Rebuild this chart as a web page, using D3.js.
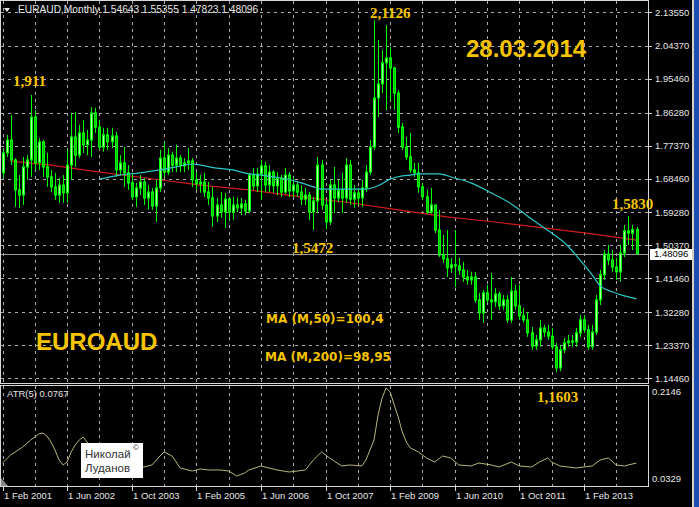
<!DOCTYPE html>
<html>
<head>
<meta charset="utf-8">
<script src="https://cdn.jsdelivr.net/npm/d3@7/dist/d3.min.js"></script>
<style>
  body { margin: 0; background: #000; }
  svg { display: block; }
</style>
</head>
<body>
<svg width="699" height="507"></svg>
<script>
// EURAUD monthly bars, Feb 2001 .. Mar 2014 (index 0 = Feb 2001)
var open = [1.700,1.754,1.789,1.735,1.654,1.640,1.716,1.735,1.851,1.727,
  1.784,1.716,1.689,1.662,1.640,1.667,1.646,1.721,1.797,1.748,
  1.808,1.776,1.789,1.862,1.824,1.770,1.803,1.784,1.800,1.708,
  1.727,1.700,1.673,1.635,1.659,1.675,1.632,1.648,1.610,1.659,
  1.740,1.702,1.748,1.721,1.740,1.719,1.727,1.732,1.681,1.670,
  1.675,1.648,1.632,1.583,1.613,1.594,1.629,1.594,1.613,1.605,
  1.616,1.597,1.694,1.665,1.697,1.719,1.667,1.702,1.665,1.686,
  1.648,1.694,1.651,1.667,1.648,1.629,1.640,1.594,1.624,1.721,
  1.613,1.567,1.667,1.632,1.654,1.632,1.721,1.629,1.646,1.632,
  1.659,1.702,1.770,1.903,1.941,1.998,2.011,1.984,1.916,1.824,
  1.770,1.743,1.708,1.700,1.662,1.635,1.594,1.613,1.545,1.478,
  1.467,1.443,1.451,1.448,1.437,1.418,1.410,1.418,1.356,1.321,
  1.375,1.356,1.351,1.372,1.340,1.356,1.302,1.380,1.340,1.313,
  1.302,1.267,1.231,1.248,1.280,1.269,1.258,1.229,1.172,1.221,
  1.240,1.245,1.242,1.267,1.302,1.275,1.229,1.269,1.356,1.424,
  1.480,1.464,1.445,1.432,1.483,1.543,1.537,1.54643];
var high = [1.762,1.803,1.857,1.740,1.694,1.743,1.748,1.911,1.870,1.794,
  1.789,1.754,1.708,1.700,1.686,1.694,1.762,1.862,1.865,1.830,
  1.843,1.816,1.878,1.876,1.843,1.822,1.822,1.822,1.811,1.748,
  1.770,1.721,1.700,1.673,1.694,1.686,1.667,1.659,1.681,1.762,
  1.784,1.767,1.757,1.776,1.748,1.740,1.767,1.740,1.702,1.694,
  1.700,1.675,1.662,1.632,1.648,1.646,1.632,1.635,1.632,1.632,
  1.627,1.700,1.713,1.713,1.735,1.730,1.721,1.708,1.702,1.694,
  1.713,1.702,1.686,1.675,1.667,1.659,1.648,1.635,1.743,1.735,
  1.627,1.681,1.716,1.681,1.700,1.740,1.735,1.667,1.659,1.681,
  1.721,1.789,2.1126,2.060,2.033,2.100,2.041,1.987,1.924,1.835,
  1.797,1.808,1.727,1.727,1.673,1.654,1.659,1.613,1.600,1.532,
  1.545,1.470,1.545,1.470,1.459,1.437,1.432,1.432,1.375,1.383,
  1.397,1.429,1.388,1.378,1.369,1.369,1.418,1.397,1.397,1.334,
  1.323,1.283,1.261,1.302,1.288,1.288,1.280,1.240,1.234,1.253,
  1.261,1.261,1.280,1.315,1.315,1.288,1.288,1.369,1.437,1.491,
  1.505,1.491,1.470,1.505,1.559,1.583,1.559,1.55355];
var low = [1.686,1.743,1.721,1.608,1.605,1.613,1.681,1.689,1.708,1.708,
  1.689,1.662,1.648,1.627,1.619,1.619,1.619,1.681,1.716,1.740,
  1.754,1.748,1.743,1.808,1.762,1.757,1.762,1.767,1.689,1.694,
  1.662,1.654,1.627,1.608,1.640,1.613,1.600,1.600,1.567,1.648,
  1.689,1.694,1.702,1.702,1.702,1.702,1.708,1.662,1.654,1.646,
  1.635,1.613,1.554,1.567,1.578,1.551,1.573,1.573,1.594,1.586,
  1.586,1.591,1.654,1.648,1.627,1.648,1.648,1.646,1.640,1.635,
  1.643,1.635,1.635,1.635,1.613,1.613,1.573,1.545,1.591,1.600,
  1.5472,1.559,1.591,1.621,1.591,1.619,1.613,1.605,1.613,1.608,
  1.648,1.694,1.762,1.851,1.916,1.870,1.897,1.870,1.808,1.762,
  1.735,1.700,1.689,1.646,1.627,1.589,1.589,1.537,1.472,1.456,
  1.418,1.429,1.391,1.424,1.405,1.397,1.397,1.348,1.302,1.294,
  1.348,1.302,1.337,1.329,1.329,1.294,1.294,1.329,1.302,1.294,
  1.256,1.221,1.221,1.229,1.256,1.248,1.221,1.1603,1.163,1.212,
  1.229,1.229,1.229,1.256,1.267,1.221,1.221,1.261,1.342,1.410,
  1.451,1.432,1.410,1.405,1.472,1.505,1.491,1.47823];
var close = [1.754,1.789,1.735,1.654,1.640,1.716,1.735,1.851,1.727,1.784,
  1.716,1.689,1.662,1.640,1.667,1.646,1.721,1.797,1.748,1.808,
  1.776,1.789,1.862,1.824,1.770,1.803,1.784,1.800,1.708,1.727,
  1.700,1.673,1.635,1.659,1.675,1.632,1.648,1.610,1.659,1.740,
  1.702,1.748,1.721,1.740,1.719,1.727,1.732,1.681,1.670,1.675,
  1.648,1.632,1.583,1.613,1.594,1.629,1.594,1.613,1.605,1.616,
  1.597,1.694,1.665,1.697,1.719,1.667,1.702,1.665,1.686,1.648,
  1.694,1.651,1.667,1.648,1.629,1.640,1.594,1.624,1.721,1.613,
  1.567,1.667,1.632,1.654,1.632,1.721,1.629,1.646,1.632,1.659,
  1.702,1.770,1.903,1.941,1.998,2.011,1.984,1.916,1.824,1.770,
  1.743,1.708,1.700,1.662,1.635,1.594,1.613,1.545,1.478,1.467,
  1.443,1.451,1.448,1.437,1.418,1.410,1.418,1.356,1.321,1.375,
  1.356,1.351,1.372,1.340,1.356,1.302,1.380,1.340,1.313,1.302,
  1.267,1.231,1.248,1.280,1.269,1.258,1.229,1.172,1.221,1.240,
  1.245,1.242,1.267,1.302,1.275,1.229,1.269,1.356,1.424,1.480,
  1.464,1.445,1.432,1.483,1.543,1.537,1.5464,1.48096];

// moving averages (bar index, value)
var ma200Idx = [2,12,24,37,49,61,74,86,98,110,122,134,146,157];
var ma200 = [1.732,1.721,1.702,1.684,1.667,1.654,1.635,1.619,1.600,1.581,1.567,1.551,1.535,1.518];
var ma50Idx = [24,29,34,39,43,47,49,53,57,61,64,69,74,77,79,84,90,93,96,99,101,103,108,112,116,121,126,131,136,140,143,146,148,151,154,157];
var ma50 = [1.683,1.694,1.700,1.708,1.716,1.724,1.721,1.713,1.708,1.697,1.694,1.686,1.673,1.662,1.656,1.656,1.656,1.665,1.683,1.692,1.694,1.697,1.697,1.686,1.673,1.646,1.616,1.575,1.537,1.502,1.464,1.424,1.394,1.378,1.367,1.359];

// ATR(5) sub window
var atrIdx = [0,2,5,7,9,10,11,12,13,14,15,16,17,18,19,20,22,24,27,29,32,34,37,39,40,42,44,47,49,51,54,56,58,60,61,64,68,71,75,77,79,81,84,86,89,90,92,93,94,95,96,97,98,99,100,101,103,105,107,109,111,113,116,118,121,123,126,128,131,133,135,136,138,142,146,148,150,152,154,157];
var atr = [0.0727,0.0878,0.1029,0.1162,0.1276,0.1294,0.1238,0.1124,0.0973,0.0783,0.0689,0.0745,0.0935,0.1067,0.1162,0.1219,0.1010,0.0821,0.0708,0.0632,0.0594,0.0632,0.0689,0.0859,0.0935,0.0859,0.0632,0.0575,0.0613,0.0594,0.0594,0.0575,0.0480,0.0537,0.0594,0.0670,0.0594,0.0556,0.0594,0.0783,0.0935,0.0821,0.0670,0.0689,0.0670,0.0783,0.1162,0.1635,0.1957,0.2146,0.2071,0.1825,0.1597,0.1313,0.1124,0.1010,0.0935,0.0821,0.0745,0.0859,0.0821,0.0689,0.0670,0.0727,0.0689,0.0651,0.0745,0.0670,0.0651,0.0745,0.0821,0.0745,0.0670,0.0632,0.0670,0.0783,0.0821,0.0689,0.0670,0.0727];

var priceTicks = [2.1355,2.0437,1.9546,1.8628,1.7737,1.6846,1.5928,1.5037,1.4146,1.3228,1.2337,1.1446];
var dateTicks = ["1 Feb 2001","1 Jun 2002","1 Oct 2003","1 Feb 2005","1 Jun 2006","1 Oct 2007","1 Feb 2009","1 Jun 2010","1 Oct 2011","1 Feb 2013"];
var lastPrice = 1.48096;

var svg = d3.select("svg");

// panel geometry
var left = 1, right = 648;
var mainTop = 1, mainBottom = 383, atrTop = 386, atrBottom = 486;

var x = d3.scaleLinear().domain([0, 157]).range([2.5, 636.5]);
var y = d3.scaleLinear().domain([1.1446, 2.1355]).range([378, 12]);
var ya = d3.scaleLinear().domain([0.0329, 0.2146]).range([484, 388]);

var grid = "#a9a9a9";
var gold = "#f6c400";
var axisFont = "Liberation Sans, Arial, sans-serif";

// grid
svg.append("g").selectAll("line")
  .data(priceTicks).enter().append("line")
    .attr("x1", left).attr("x2", right)
    .attr("y1", function(d) { return Math.round(y(d)) + 0.5; })
    .attr("y2", function(d) { return Math.round(y(d)) + 0.5; })
    .attr("stroke", grid).attr("stroke-dasharray", "3,4");

var vIdx = d3.range(0, 158, 8);
[[mainTop, mainBottom], [atrTop, atrBottom]].forEach(function(p) {
  svg.append("g").selectAll("line")
    .data(vIdx).enter().append("line")
      .attr("x1", function(d) { return Math.round(x(d)) + 0.5; })
      .attr("x2", function(d) { return Math.round(x(d)) + 0.5; })
      .attr("y1", p[0]).attr("y2", p[1])
      .attr("stroke", grid).attr("stroke-dasharray", "3,4");
});

// current price line
svg.append("line")
  .attr("x1", left).attr("x2", right)
  .attr("y1", Math.round(y(lastPrice)) + 0.5).attr("y2", Math.round(y(lastPrice)) + 0.5)
  .attr("stroke", "#9a9a9a");

// MA lines
var ma200Line = d3.line().x(function(d) { return x(d[0]); }).y(function(d) { return y(d[1]); });
svg.append("path")
  .datum(ma200Idx.map(function(d, i) { return [d, ma200[i]]; }))
  .attr("d", ma200Line).attr("fill", "none").attr("stroke", "#d21a1a").attr("stroke-width", 1.2);

// candles
var bars = svg.append("g");
open.forEach(function(o, i) {
  var c = close[i];
  var cx = Math.round(x(i));
  bars.append("line")
    .attr("x1", cx + 0.5).attr("x2", cx + 0.5)
    .attr("y1", y(high[i])).attr("y2", y(low[i]))
    .attr("stroke", "#00ff00");
  var top = y(Math.max(o, c)), bot = y(Math.min(o, c));
  bars.append("rect")
    .attr("x", cx - 0.5).attr("width", 2)
    .attr("y", top).attr("height", Math.max(1, bot - top))
    .attr("fill", c >= o ? "#a8ffa0" : "#10c010")
    .attr("stroke", "#00ff00").attr("stroke-width", 1);
});

svg.append("path")
  .datum(ma50Idx.map(function(d, i) { return [d, ma50[i]]; }))
  .attr("d", d3.line().curve(d3.curveMonotoneX).x(function(d) { return x(d[0]); }).y(function(d) { return y(d[1]); }))
  .attr("fill", "none").attr("stroke", "#2bc6c6").attr("stroke-width", 1.2);

// ATR line
svg.append("path")
  .datum(atrIdx.map(function(d, i) { return [d, atr[i]]; }))
  .attr("d", d3.line().x(function(d) { return x(d[0]); }).y(function(d) { return ya(d[1]); }))
  .attr("fill", "none").attr("stroke", "#b9b57a").attr("stroke-width", 1);

// panel borders
svg.append("rect").attr("x", left - 0.5).attr("y", mainTop - 0.5)
  .attr("width", right - left + 1).attr("height", mainBottom - mainTop + 1)
  .attr("fill", "none").attr("stroke", "#d8d8d8");
svg.append("rect").attr("x", left - 0.5).attr("y", atrTop - 0.5)
  .attr("width", right - left + 1).attr("height", atrBottom - atrTop + 1)
  .attr("fill", "none").attr("stroke", "#d8d8d8");

// price axis
var pAxis = svg.append("g");
pAxis.selectAll("line").data(priceTicks).enter().append("line")
  .attr("x1", right).attr("x2", right + 4)
  .attr("y1", function(d) { return Math.round(y(d)) + 0.5; })
  .attr("y2", function(d) { return Math.round(y(d)) + 0.5; })
  .attr("stroke", "#d8d8d8");
pAxis.selectAll("text").data(priceTicks).enter().append("text")
  .attr("x", 655).attr("y", function(d) { return y(d) + 3.5; })
  .attr("fill", "#e6e6e6").attr("font-family", axisFont).attr("font-size", 9.5)
  .text(function(d) { return d3.format(".5f")(d); });

svg.append("rect").attr("x", 650).attr("y", Math.round(y(lastPrice)) - 5)
  .attr("width", 42).attr("height", 11).attr("fill", "#ffffff");
svg.append("text").attr("x", 654).attr("y", y(lastPrice) + 3.5)
  .attr("fill", "#000").attr("font-family", axisFont).attr("font-size", 9.5)
  .text(d3.format(".5f")(lastPrice));

// ATR axis
svg.append("text").attr("x", 652).attr("y", 395).attr("fill", "#e6e6e6")
  .attr("font-family", axisFont).attr("font-size", 9.5).text("0.2146");
svg.append("text").attr("x", 652).attr("y", 482).attr("fill", "#e6e6e6")
  .attr("font-family", axisFont).attr("font-size", 9.5).text("0.0329");

// time axis
var tAxis = svg.append("g");
dateTicks.forEach(function(t, i) {
  var tx = Math.round(x(i * 16)) + 0.5;
  tAxis.append("line").attr("x1", tx).attr("x2", tx).attr("y1", atrBottom).attr("y2", atrBottom + 5)
    .attr("stroke", "#d8d8d8");
  tAxis.append("text").attr("x", tx + 0.5).attr("y", 499).attr("fill", "#e6e6e6")
    .attr("font-family", axisFont).attr("font-size", 9.5).text(t);
});

// header
svg.append("path").attr("d", "M4,8 L10,8 L7,12 Z").attr("fill", "#e6e6e6");
svg.append("text").attr("x", 18).attr("y", 13).attr("fill", "#e6e6e6")
  .attr("font-family", axisFont).attr("font-size", 10.2)
  .text("EURAUD,Monthly  1.54643 1.55355 1.47823 1.48096");
svg.append("text").attr("x", 7).attr("y", 397).attr("fill", "#e6e6e6")
  .attr("font-family", axisFont).attr("font-size", 9.5).text("ATR(5) 0.0767");

// small corner marker
svg.append("path").attr("d", "M1,478 L1,486 L8,486 Z").attr("fill", "#8a8a8a");

// annotations
var serif = "Liberation Serif, Times New Roman, serif";
var sans = "Liberation Sans, Arial, sans-serif";
var notes = [
  {t: "1,911", x: 13, y: 86, f: serif, s: 15},
  {t: "2,1126", x: 370, y: 18, f: serif, s: 15},
  {t: "1,5830", x: 612, y: 209, f: serif, s: 15},
  {t: "1,5472", x: 292, y: 253, f: serif, s: 15},
  {t: "1,1603", x: 537, y: 402, f: serif, s: 15},
  {t: "MA (M,50)=100,4", x: 266, y: 323, f: "DejaVu Sans, sans-serif", s: 12},
  {t: "MA (M,200)=98,95", x: 265, y: 361, f: "DejaVu Sans, sans-serif", s: 12},
  {t: "EUROAUD", x: 36, y: 350, f: sans, s: 24},
  {t: "28.03.2014", x: 466, y: 57, f: sans, s: 24}
];
svg.append("g").selectAll("text").data(notes).enter().append("text")
  .attr("x", function(d) { return d.x; }).attr("y", function(d) { return d.y; })
  .attr("font-family", function(d) { return d.f; }).attr("font-size", function(d) { return d.s; })
  .attr("font-weight", "bold").attr("fill", gold)
  .text(function(d) { return d.t; });

// author stamp
svg.append("rect").attr("x", 81).attr("y", 443).attr("width", 62).attr("height", 35).attr("fill", "#ffffff");
svg.append("text").attr("x", 85).attr("y", 458).attr("fill", "#333").attr("font-family", sans)
  .attr("font-size", 11.5).text("Николай");
svg.append("text").attr("x", 133).attr("y", 450).attr("fill", "#333").attr("font-family", sans)
  .attr("font-size", 8).text("©");
svg.append("text").attr("x", 85).attr("y", 472).attr("fill", "#333").attr("font-family", sans)
  .attr("font-size", 11.5).text("Луданов");

// window frame on the right
svg.append("rect").attr("x", 692).attr("y", 0).attr("width", 2).attr("height", 507).attr("fill", "#d4d0c8");
svg.append("rect").attr("x", 694).attr("y", 0).attr("width", 5).attr("height", 507).attr("fill", "#1c4fb0");
</script>
</body>
</html>
